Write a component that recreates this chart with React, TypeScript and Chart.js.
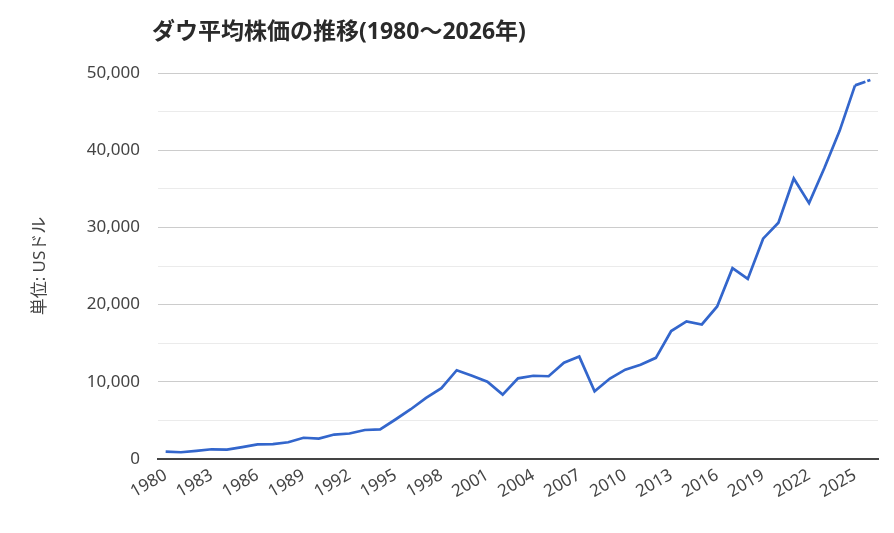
import React, { useEffect, useRef } from 'react';
import { Chart, registerables } from 'chart.js';

Chart.register(...registerables);

const chartTitle = 'ダウ平均株価の推移(1980～2026年)';
const yAxisTitle = '単位: USドル';

const years: string[] = [
  '1980', '1981', '1982', '1983', '1984', '1985', '1986', '1987', '1988', '1989',
  '1990', '1991', '1992', '1993', '1994', '1995', '1996', '1997', '1998', '1999',
  '2000', '2001', '2002', '2003', '2004', '2005', '2006', '2007', '2008', '2009',
  '2010', '2011', '2012', '2013', '2014', '2015', '2016', '2017', '2018', '2019',
  '2020', '2021', '2022', '2023', '2024', '2025', '2026',
];

const dowValues: number[] = [
  964, 875, 1047, 1259, 1212, 1547, 1896, 1939, 2169, 2753,
  2634, 3169, 3301, 3754, 3834, 5117, 6448, 7908, 9181, 11497,
  10787, 10022, 8342, 10454, 10783, 10718, 12463, 13265, 8776, 10428,
  11578, 12218, 13104, 16577, 17823, 17425, 19763, 24719, 23327, 28538,
  30606, 36338, 33147, 37690, 42544, 48400, 49100,
];

const yMin = 0;
const yMax = 50000;
const yStep = 5000;
const yLabelStep = 10000;
const xLabelEvery = 3;

const FONT = "'Noto Sans', 'Noto Sans CJK JP', sans-serif";

const titlePlugin = {
  id: 'leftTitle',
  afterDraw(chart: any) {
    const { ctx, chartArea } = chart;
    ctx.save();
    ctx.font = `bold 23px ${FONT}`;
    ctx.fillStyle = '#2a2a2a';
    ctx.textAlign = 'left';
    ctx.textBaseline = 'middle';
    ctx.fillText(chartTitle, chartArea.left - 6, 32);
    ctx.restore();
  },
};

export default function App() {
  const canvasRef = useRef<HTMLCanvasElement | null>(null);

  useEffect(() => {
    const canvas = canvasRef.current;
    if (!canvas) return;
    const lastIdx = dowValues.length - 1;
    const chart = new Chart(canvas, {
      type: 'line',
      data: {
        labels: years,
        datasets: [
          {
            data: dowValues,
            borderColor: '#3366CC',
            borderWidth: 2.7,
            pointRadius: 0,
            pointHoverRadius: 0,
            tension: 0,
            fill: false,
            segment: {
              borderDash: (ctx: any) => (ctx.p1DataIndex === lastIdx ? [11, 2] : undefined),
            },
          },
        ],
      },
      plugins: [titlePlugin],
      options: {
        animation: false,
        responsive: false,
        maintainAspectRatio: false,
        layout: { padding: { left: 0, right: 16, top: 73, bottom: 0 } },
        plugins: {
          legend: { display: false },
          tooltip: { enabled: false },
          title: { display: false },
        },
        scales: {
          x: {
            type: 'category',
            offset: true,
            grid: { display: false, drawTicks: false },
            border: { display: true, color: '#444', width: 2 },
            ticks: {
              autoSkip: false,
              maxRotation: 30,
              minRotation: 30,
              padding: 6,
              color: '#444',
              font: { family: FONT, size: 17 },
              callback: (_v: any, idx: number) => (idx % xLabelEvery === 0 ? years[idx] : ''),
            },
            afterFit: (scale: any) => {
              scale.height = 74;
            },
          },
          y: {
            min: yMin,
            max: yMax,
            grid: {
              drawTicks: false,
              color: (ctx: any) => {
                const v = ctx.tick ? ctx.tick.value : 0;
                if (v === 0) return '#444';
                return v % yLabelStep === 0 ? '#cccccc' : '#ebebeb';
              },
              lineWidth: 1,
            },
            border: { display: false },
            ticks: {
              stepSize: yStep,
              padding: 18,
              color: '#444',
              font: { family: FONT, size: 17 },
              callback: (v: any) =>
                Number(v) % yLabelStep === 0 ? Number(v).toLocaleString('en-US') : '',
            },
            title: {
              display: true,
              text: yAxisTitle,
              color: '#444',
              font: { family: FONT, size: 17, lineHeight: 1.2 },
              padding: { top: 30, bottom: 0 },
            },
            afterFit: (scale: any) => {
              scale.width = 158;
            },
          },
        },
      },
    });
    return () => chart.destroy();
  }, []);

  return (
    <div style={{ position: 'fixed', left: 0, top: 0, width: 894, height: 533, background: '#fff' }}>
      <canvas ref={canvasRef} width={894} height={533} style={{ width: 894, height: 533 }} />
    </div>
  );
}
